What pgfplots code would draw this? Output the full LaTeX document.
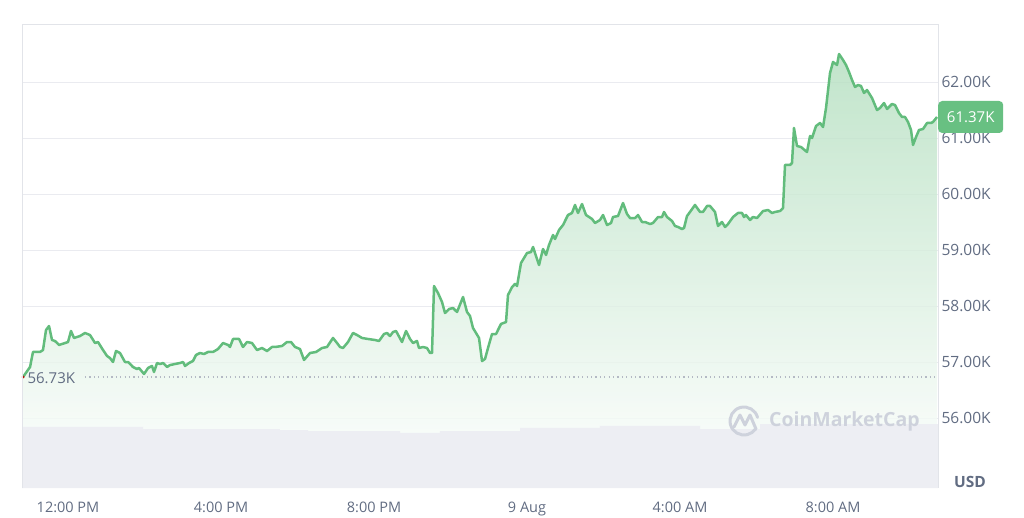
\documentclass[border=0pt]{standalone}
\usepackage{pgfplots}
\pgfplotsset{compat=1.18}
\usepackage{pgfplotstable}
\usepackage{fontspec}
\setmainfont{Open Sans}
\definecolor{lbl}{RGB}{97,108,130}
\definecolor{linegreen}{RGB}{98,188,124}
\definecolor{badge}{RGB}{104,192,130}
\definecolor{gridc}{RGB}{234,235,240}
\definecolor{framec}{RGB}{226,228,233}
\definecolor{volc}{RGB}{237,238,243}
\definecolor{wm}{RGB}{206,210,220}
\definecolor{filltop}{RGB}{178,222,190}
\definecolor{dotc}{RGB}{180,185,196}

\pgfplotstableread{
x y
-1.176 56.732
-0.993 56.911
-0.915 57.179
-0.732 57.179
-0.654 57.214
-0.575 57.571
-0.497 57.643
-0.418 57.393
-0.340 57.375
-0.235 57.304
-0.078 57.339
0.000 57.357
0.078 57.554
0.157 57.429
0.314 57.464
0.444 57.518
0.575 57.482
0.706 57.339
0.784 57.357
0.915 57.214
1.020 57.107
1.098 57.071
1.176 57.000
1.255 57.196
1.359 57.161
1.490 57.000
1.569 57.000
1.699 56.911
1.804 56.875
1.856 56.893
1.987 56.786
2.092 56.893
2.196 56.929
2.248 56.821
2.327 56.982
2.405 56.964
2.484 56.982
2.588 56.911
2.667 56.946
2.797 56.964
2.928 56.982
3.007 57.000
3.059 56.929
3.163 56.982
3.268 57.018
3.346 57.125
3.451 57.161
3.556 57.143
3.660 57.179
3.791 57.179
3.922 57.232
4.052 57.339
4.183 57.304
4.235 57.268
4.314 57.411
4.471 57.411
4.575 57.268
4.680 57.357
4.810 57.339
4.941 57.214
5.072 57.250
5.203 57.196
5.333 57.268
5.412 57.268
5.595 57.286
5.725 57.357
5.830 57.357
5.935 57.268
6.065 57.232
6.170 57.036
6.327 57.161
6.484 57.179
6.641 57.250
6.771 57.268
6.928 57.429
7.033 57.339
7.111 57.268
7.190 57.250
7.320 57.357
7.451 57.518
7.556 57.482
7.686 57.429
7.843 57.411
8.026 57.393
8.131 57.375
8.261 57.500
8.340 57.518
8.418 57.464
8.497 57.536
8.575 57.554
8.732 57.357
8.837 57.554
8.941 57.411
9.020 57.339
9.124 57.375
9.176 57.250
9.281 57.268
9.386 57.250
9.464 57.161
9.516 57.161
9.569 58.357
9.673 58.232
9.778 58.071
9.856 57.875
9.961 57.946
10.065 57.964
10.170 57.893
10.327 58.161
10.431 57.893
10.510 57.821
10.588 57.607
10.745 57.429
10.824 57.018
10.902 57.054
10.980 57.250
11.085 57.500
11.190 57.500
11.320 57.679
11.451 57.714
11.503 58.196
11.608 58.339
11.686 58.393
11.739 58.357
11.843 58.768
12.000 58.946
12.105 58.964
12.157 59.054
12.261 58.839
12.314 58.732
12.418 59.018
12.497 58.911
12.575 59.089
12.680 59.268
12.732 59.196
12.837 59.357
12.941 59.446
13.072 59.625
13.176 59.661
13.255 59.804
13.333 59.661
13.438 59.821
13.542 59.625
13.699 59.554
13.778 59.482
13.908 59.536
13.987 59.625
14.092 59.446
14.196 59.482
14.248 59.589
14.379 59.607
14.510 59.839
14.614 59.643
14.693 59.571
14.824 59.571
14.902 59.625
15.007 59.500
15.085 59.500
15.216 59.464
15.294 59.482
15.425 59.589
15.529 59.589
15.582 59.679
15.660 59.589
15.791 59.518
15.869 59.429
15.948 59.411
16.052 59.375
16.105 59.393
16.183 59.607
16.261 59.679
16.392 59.804
16.523 59.679
16.601 59.679
16.706 59.786
16.784 59.786
16.915 59.679
16.993 59.429
17.098 59.500
17.176 59.411
17.255 59.464
17.386 59.589
17.516 59.661
17.621 59.661
17.673 59.589
17.725 59.625
17.830 59.536
17.908 59.589
18.013 59.571
18.170 59.696
18.301 59.714
18.405 59.661
18.484 59.679
18.614 59.696
18.693 59.750
18.745 60.518
18.876 60.518
18.928 60.554
18.980 61.179
19.059 60.857
19.163 60.839
19.320 60.750
19.399 61.036
19.451 61.000
19.556 61.214
19.660 61.268
19.739 61.196
19.817 61.536
19.922 62.161
20.000 62.357
20.105 62.304
20.157 62.500
20.261 62.393
20.340 62.304
20.418 62.179
20.497 62.036
20.575 61.911
20.654 61.946
20.732 61.929
20.810 61.804
20.889 61.857
21.020 61.714
21.150 61.500
21.229 61.536
21.333 61.625
21.412 61.518
21.542 61.607
21.621 61.589
21.725 61.446
21.804 61.375
21.882 61.375
21.961 61.286
22.039 61.143
22.092 60.875
22.170 61.018
22.248 61.143
22.353 61.161
22.458 61.268
22.562 61.268
22.614 61.286
22.719 61.375
}\pricedata

\pgfplotstableread{
x v
-1.203 13.2
1.961 12.7
5.542 12.5
6.275 12.3
8.680 11.9
9.725 12.3
11.817 13.0
13.908 13.4
16.523 12.7
18.092 13.8
22.745 13.8
}\voldata

\begin{document}
\begin{tikzpicture}[x=1pt,y=1pt]
\path[use as bounding box] (0,0) rectangle (1024,517);
\begin{axis}[name=main, at={(22pt,29pt)}, anchor=south west,
  width=916pt, height=463pt, scale only axis,
  xmin=-1.203, xmax=22.745, ymin=54.75, ymax=63.018,
  axis line style={draw=none},
  major tick length=0pt,
  ytick={56,57,58,59,60,61,62},
  yticklabels={56.00K,57.00K,58.00K,59.00K,60.00K,61.00K,62.00K},
  yticklabel pos=right,
  xtick={0,4,8,12,16,20},
  xticklabels={12:00 PM,4:00 PM,8:00 PM,9 Aug,4:00 AM,8:00 AM},
  ymajorgrids, grid style={gridc, line width=0.9pt},
  tick label style={font=\fontsize{14.5}{17}\selectfont, text=lbl},
  yticklabel style={font=\fontsize{15.5}{18}\selectfont},
  xticklabel style={yshift=-10pt},
]
\addplot[draw=none, top color=filltop, bottom color=white, fill opacity=0.8] table {\pricedata} \closedcycle;
\addplot[dotc, line width=1.2pt, dash pattern=on 1.2pt off 3.2pt] coordinates {(0.444,56.732) (22.745,56.732)};
\addplot[linegreen, line width=2.5pt, line join=round, mark=none] table {\pricedata};
\addplot[only marks, mark=*, mark size=1.2pt, color=red!75!black] coordinates {(-1.176,56.732)};
\node[anchor=west, text=lbl, font=\fontsize{15}{17}\selectfont, xshift=2pt] at (axis cs:-1.203,56.714) {56.73K};
\coordinate (badgepos) at (axis cs:22.745,61.375);
\end{axis}
\begin{axis}[at={(22pt,29pt)}, anchor=south west,
  width=916pt, height=463pt, scale only axis,
  xmin=-1.203, xmax=22.745, ymin=0, ymax=100, hide axis]
\addplot[const plot, fill=volc, draw=none] table {\voldata} \closedcycle;
\end{axis}
\draw[framec, line width=1pt] (main.south west) -- (main.north west) -- (main.north east) -- (main.south east);
\node[fill=badge, rounded corners=4pt, text=white, minimum width=65pt, minimum height=32pt, anchor=west, inner sep=0pt, font=\fontsize{15}{17}\selectfont] at (badgepos) {61.37K};
% watermark
\draw[wm, line width=3pt, line cap=round] (744,96) ++(15:14) arc (15:325:14);
\draw[wm, line width=3pt, line cap=round, line join=round] (734,90) -- (740,102) -- (745,92) -- (750,102) -- (756,88);
\node[anchor=west, inner sep=0pt, text=wm, font=\fontsize{19.5}{22}\selectfont\bfseries] at (769,96) {CoinMarketCap};
\node[text=lbl, font=\fontsize{15.5}{18}\selectfont\bfseries] at (970,35) {USD};
\end{tikzpicture}
\end{document}
